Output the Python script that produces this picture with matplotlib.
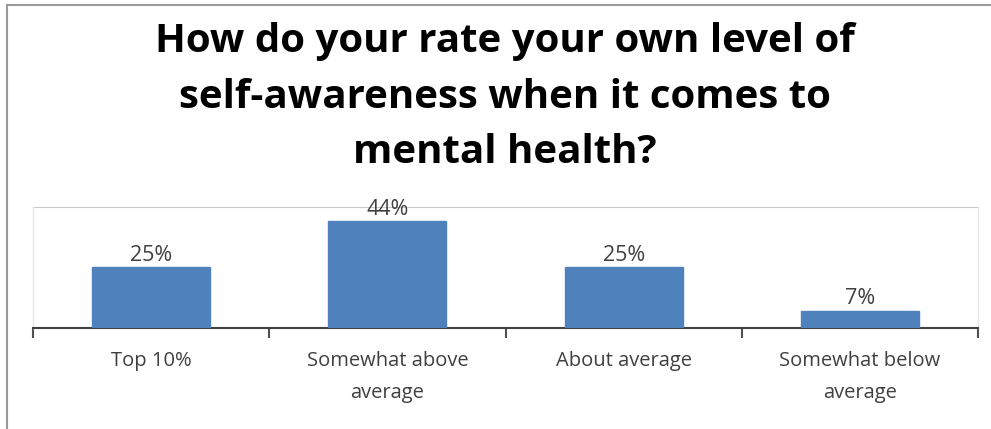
import matplotlib
matplotlib.use("Agg")
import matplotlib.pyplot as plt
from matplotlib.lines import Line2D

categories = ["Top 10%", "Somewhat above\naverage", "About average", "Somewhat below\naverage"]
values = [25, 44, 25, 7]
labels = ["25%", "44%", "25%", "7%"]
title = "How do your rate your own level of\nself-awareness when it comes to\nmental health?"

plt.rcParams['font.family'] = ['Open Sans', 'DejaVu Sans']

W, H = 991, 429
fig = plt.figure(figsize=(W / 100, H / 100), dpi=100)
fig.patch.set_facecolor('white')

# chart border (left and top visible)
fig.add_artist(Line2D([6.5 / W, 6.5 / W], [0, 1 - 4.5 / H], transform=fig.transFigure,
                      color='#9a9a9a', lw=1.5))
fig.add_artist(Line2D([6.5 / W, 1], [1 - 4.5 / H, 1 - 4.5 / H], transform=fig.transFigure,
                      color='#9a9a9a', lw=1.5))

left, right = 33, 978
top, bottom = 207, 327.5
ax = fig.add_axes([left / W, 1 - bottom / H, (right - left) / W, (bottom - top) / H])

x = list(range(len(categories)))
bars = ax.bar(x, values, width=0.5, color='#4F81BD', edgecolor='#4F81BD', zorder=3)
ax.set_xlim(-0.5, len(categories) - 0.5)
ax.set_ylim(0, 50)
ax.set_yticks([50])
ax.yaxis.grid(True, color='#c8c8c8', lw=1.5, zorder=0)
ax.tick_params(axis='y', left=False, labelleft=False)

for b, lab in zip(bars, labels):
    ax.annotate(lab, (b.get_x() + b.get_width() / 2, b.get_height()),
                xytext=(0, 1), textcoords='offset points', ha='center', va='bottom',
                fontsize=15.5, color='#404040', zorder=4)

ax.set_xticks([i + 0.5 for i in range(-1, len(categories))], minor=False)
ax.set_xticklabels([])
ax.tick_params(axis='x', which='major', direction='out', length=7, width=1.5, color='#505050')
ax.set_xticks(x, minor=True)
ax.set_xticklabels(categories, minor=True, fontsize=14.5, color='#404040', linespacing=1.8)
ax.tick_params(axis='x', which='minor', length=0, pad=17)

ax.spines['top'].set_visible(False)
ax.spines['left'].set_color('#e6e6e6')
ax.spines['right'].set_color('#e6e6e6')
ax.spines['left'].set_linewidth(1)
ax.spines['right'].set_linewidth(1)
ax.spines['bottom'].set_color('#404040')
ax.spines['bottom'].set_linewidth(1.5)

fig.text(505 / W, 1 - 97 / H, title, ha='center', va='center', fontsize=29,
         fontweight='bold', color='black', linespacing=1.55)

fig.savefig('out.png', dpi=100, facecolor='white')
